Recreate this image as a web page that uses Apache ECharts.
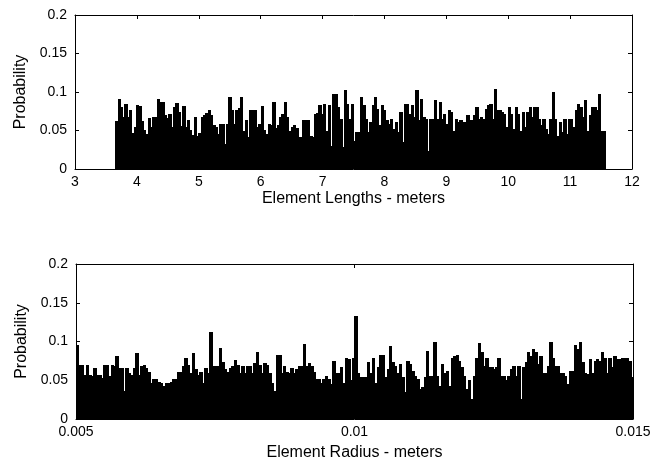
<!DOCTYPE html>
<html>
<head>
<meta charset="utf-8">
<script src="https://cdn.jsdelivr.net/npm/echarts@6/dist/echarts.min.js"></script>
<style>
html,body{margin:0;padding:0;background:#fff;}
#chart{width:654px;height:465px;}
</style>
</head>
<body>
<div id="chart"></div>
<script>
// ---- data ----
const lengthRange = [3.65, 11.56];          // extent of histogram bins (meters)
const lengthProb = [
0.062,0.091,0.080,0.068,0.085,0.068,0.077,0.047,0.055,0.083,0.082,0.062,0.051,0.046,0.066,0.055,0.067,0.067,0.091,0.087,
0.087,0.070,0.066,0.072,0.055,0.081,0.086,0.074,0.056,0.082,0.055,0.064,0.051,0.044,0.068,0.043,0.047,0.068,0.070,0.073,
0.077,0.070,0.057,0.055,0.046,0.058,0.058,0.033,0.058,0.093,0.077,0.058,0.077,0.079,0.093,0.049,0.063,0.042,0.077,0.077,
0.077,0.055,0.059,0.082,0.051,0.046,0.059,0.057,0.087,0.053,0.057,0.068,0.072,0.087,0.068,0.049,0.055,0.057,0.053,0.042,
0.042,0.063,0.063,0.063,0.043,0.042,0.072,0.073,0.083,0.072,0.084,0.049,0.083,0.030,0.098,0.098,
0.080,0.065,0.028,0.103,0.085,0.065,0.085,0.037,0.048,0.048,0.094,0.083,0.065,0.048,0.061,0.083,0.094,0.078,0.057,0.083,
0.076,0.063,0.059,0.065,0.052,0.061,0.048,0.074,0.035,0.085,0.085,0.072,0.083,0.067,0.103,0.063,0.091,0.067,0.065,0.024,
0.065,0.065,0.089,0.065,0.087,0.065,0.072,0.059,0.076,0.074,0.050,0.065,0.061,0.063,0.061,0.061,0.070,0.063,0.063,0.070,
0.080,0.065,0.067,0.065,0.078,0.083,0.085,0.065,0.104,0.076,0.076,0.074,0.072,0.054,0.080,0.072,0.052,0.080,0.072,0.050,
0.074,0.054,0.074,0.080,0.067,0.080,0.080,0.065,0.057,0.065,0.052,0.046,0.065,0.100,0.065,0.043,0.061,0.048,0.065,0.046,
0.065,0.065,0.054,0.076,0.085,0.080,0.067,0.089,0.050,0.070,0.080,0.080,0.076,0.098,0.050,0.050
];
const radiusRange = [0.005, 0.015];
const radiusProb = [
0.096,0.070,0.070,0.057,0.070,0.057,0.056,0.066,0.057,0.057,0.053,0.070,0.070,0.055,0.070,0.069,0.081,0.066,0.066,0.036,
0.066,0.059,0.057,0.066,0.085,0.057,0.068,0.070,0.066,0.061,0.046,0.051,0.051,0.048,0.046,0.042,0.046,0.046,0.048,0.051,
0.051,0.061,0.061,0.068,0.079,0.070,0.059,0.085,0.064,0.057,0.061,0.046,0.066,0.059,0.112,0.068,0.068,0.068,0.091,0.074,
0.064,0.061,0.066,0.068,0.076,0.070,0.059,0.068,0.059,0.068,0.068,0.059,0.072,0.086,0.070,0.059,0.072,0.070,0.059,0.046,
0.036,0.083,0.083,0.059,0.068,0.061,0.059,0.066,0.059,0.064,0.068,0.068,0.097,0.068,0.072,0.069,0.061,0.051,0.051,0.046,
0.051,0.055,0.051,
0.045,0.075,0.060,0.060,0.067,0.047,0.079,0.077,0.050,0.079,0.133,0.060,0.054,0.054,0.054,0.073,0.060,0.079,0.047,0.067,
0.083,0.083,0.054,0.064,0.094,0.073,0.069,0.060,0.071,0.054,0.035,0.075,0.071,0.062,0.056,0.052,0.039,0.041,0.054,0.088,
0.056,0.056,0.099,0.056,0.043,0.071,0.060,0.062,0.043,0.079,0.081,0.083,0.075,0.067,0.056,0.039,0.050,0.026,0.056,0.079,
0.098,0.086,0.069,0.079,0.067,0.067,0.064,0.067,0.079,0.056,0.056,0.050,0.056,0.064,0.069,0.056,0.069,0.026,0.067,0.073,
0.086,0.081,0.090,0.086,0.071,0.081,0.060,0.060,0.069,0.100,0.079,0.069,0.069,0.060,0.060,0.056,0.045,0.062,0.062,0.096,
0.090,0.100,0.073,0.060,0.058,0.077,0.060,0.075,0.077,0.075,0.086,0.079,0.060,0.079,0.067,0.081,0.077,0.077,0.079,0.079,
0.079,0.075,0.054
];
const lengthTicks = [3, 12, 1];        // min, max, interval
const radiusTicks = [0.005, 0.015, 0.005];
const probTicks = [0, 0.2, 0.05];
const lengthLabel = 'Element Lengths - meters';
const radiusLabel = 'Element Radius - meters';
const probLabel = 'Probability';

// ---- build ----
function binData(vals, range) {
  const w = (range[1] - range[0]) / vals.length;
  return vals.map((v, i) => [range[0] + i * w, v, w]);
}
function renderBar(params, api) {
  const x0 = api.value(0), v = api.value(1), w = api.value(2);
  const a = api.coord([x0, v]);
  const b = api.coord([x0 + w, 0]);
  const xa = Math.round(a[0]), xb = Math.round(b[0]);
  return {
    type: 'rect',
    shape: { x: xa, y: Math.round(a[1]), width: Math.max(1, xb - xa + 1), height: Math.round(b[1]) - Math.round(a[1]) },
    style: { fill: '#000' }
  };
}
const FONT = 'Liberation Sans';
const tickFont = { color: '#000', fontFamily: FONT, fontSize: 14 };
const nameFont = { color: '#000', fontFamily: FONT, fontSize: 16 };
const line = { show: true, onZero: false, lineStyle: { color: '#000', width: 1 } };
const tick = { show: true, inside: true, length: 4, lineStyle: { color: '#000' } };

function xAx(gridIndex, t, name, pos, showLabel, fmt, gap) {
  return {
    type: 'value', gridIndex, position: pos, min: t[0], max: t[1], interval: t[2],
    axisLine: line, axisTick: tick, splitLine: { show: false },
    axisLabel: Object.assign({ show: showLabel, margin: 6, formatter: fmt }, tickFont),
    name: showLabel ? name : '', nameLocation: 'middle', nameGap: gap, nameTextStyle: nameFont
  };
}
function yAx(gridIndex, pos, showLabel) {
  return {
    type: 'value', gridIndex, position: pos, min: probTicks[0], max: probTicks[1], interval: probTicks[2],
    axisLine: line, axisTick: tick, splitLine: { show: false },
    axisLabel: Object.assign({ show: showLabel, margin: 8, formatter: v => String(+v.toFixed(3)) }, tickFont),
    name: showLabel ? probLabel : '', nameLocation: 'middle', nameGap: 42, nameTextStyle: nameFont
  };
}
const fmtR = v => String(+v.toFixed(4));
const fmtL = v => String(Math.round(v));

const chart = echarts.init(document.getElementById('chart'), null, { renderer: 'canvas' });
chart.setOption({
  backgroundColor: '#fff',
  animation: false,
  grid: [
    { left: 75, right: 22, top: 15, bottom: 296 },
    { left: 76, right: 21, top: 264, bottom: 46 }
  ],
  xAxis: [
    xAx(0, lengthTicks, lengthLabel, 'bottom', true, fmtL, 22),
    xAx(0, lengthTicks, '', 'top', false, fmtL, 22),
    xAx(1, radiusTicks, radiusLabel, 'bottom', true, fmtR, 26),
    xAx(1, radiusTicks, '', 'top', false, fmtR, 26)
  ],
  yAxis: [
    yAx(0, 'left', true),
    yAx(0, 'right', false),
    yAx(1, 'left', true),
    yAx(1, 'right', false)
  ],
  series: [
    { type: 'custom', xAxisIndex: 0, yAxisIndex: 0, renderItem: renderBar, clip: true,
      encode: { x: 0, y: 1 }, data: binData(lengthProb, lengthRange) },
    { type: 'custom', xAxisIndex: 2, yAxisIndex: 2, renderItem: renderBar, clip: true,
      encode: { x: 0, y: 1 }, data: binData(radiusProb, radiusRange) }
  ]
});
</script>
</body>
</html>
